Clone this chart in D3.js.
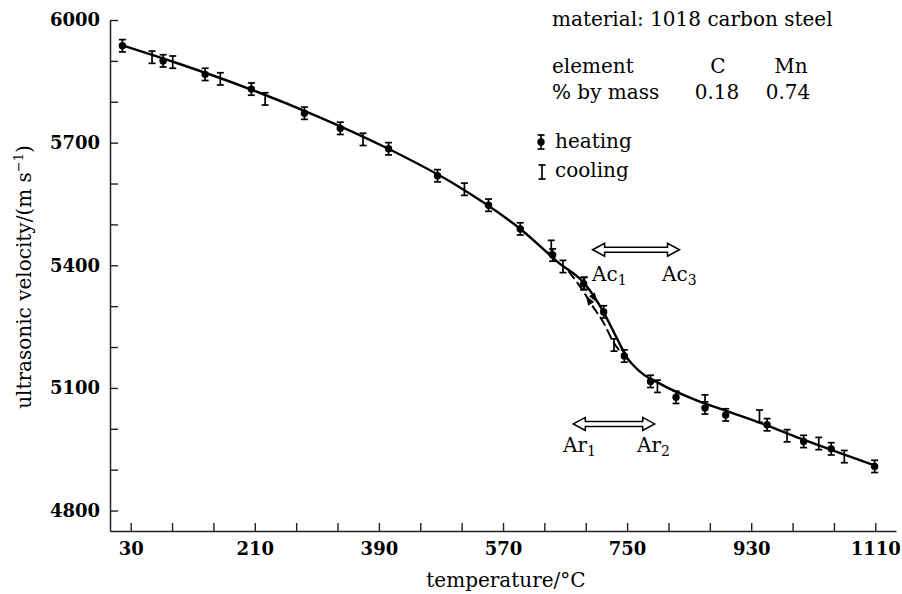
<!DOCTYPE html>
<html>
<head>
<meta charset="utf-8">
<script src="https://cdn.jsdelivr.net/npm/d3@7"></script>
<style>
  body { margin: 0; background: #fff; }
  text { font-family: "DejaVu Serif", serif; fill: #000; }
</style>
</head>
<body>
<div class="canvas"></div>
<script>
// heating runs (dot with error bar)
const heatTemp = [18, 77, 138, 205, 282, 334, 404, 475, 549, 595, 642, 687, 716, 746, 784, 821, 863, 893, 953, 1006, 1046, 1109];
const heatVel = [5937, 5900, 5867, 5831, 5772, 5735, 5685, 5619, 5547, 5489, 5425, 5355, 5286, 5178, 5116, 5077, 5051, 5034, 5010, 4969, 4951, 4908];

// cooling runs (error bar only)
const coolTemp = [61, 91, 160, 225, 367, 514, 640, 657, 688, 731, 794, 863, 942, 982, 1028, 1065];
const coolVel = [5909, 5897, 5856, 5807, 5708, 5586, 5446, 5397, 5356, 5205, 5104, 5068, 5031, 4983, 4964, 4932];
const errBar = 15;

// smooth curve through both runs (solid)
const fitTemp = [18, 100, 200, 300, 400, 500, 600, 650, 690, 715, 735, 750, 770, 800, 850, 900, 950, 1000, 1050, 1110];
const fitVel = [5938, 5893, 5833, 5765, 5688, 5598, 5482, 5407, 5352, 5288, 5222, 5174, 5138, 5108, 5070, 5040, 5010, 4977, 4946, 4910];

// cooling branch through the transformation range (dashed)
const coolFitTemp = [665, 685, 700, 715, 731, 745, 752];
const coolFitVel = [5386, 5340, 5300, 5262, 5210, 5180, 5168];

// ticks
const xTicks = d3.range(30, 1111, 60);
const xLabels = [30, 210, 390, 570, 750, 930, 1110];
const yTicks = d3.range(4800, 6001, 100);
const yLabels = [4800, 5100, 5400, 5700, 6000];

// transformation ranges
const acRange = [700, 826], acLevel = 5438;
const arRange = [672, 790], arLevel = 5012;

const svg = d3.select('.canvas')
    .append('svg')
    .attr('width', 902)
    .attr('height', 594);

const x = d3.scaleLinear().domain([0, 1140]).range([110, 896]);
const y = d3.scaleLinear().domain([4750, 6000]).range([531, 20]);

// axes, ticks pointing inwards
const xAxis = d3.axisBottom(x)
    .tickValues(xTicks)
    .tickSizeInner(-8)
    .tickSizeOuter(0)
    .tickPadding(11)
    .tickFormat(d => xLabels.includes(d) ? d : '');

const yAxis = d3.axisLeft(y)
    .tickValues(yTicks)
    .tickSizeInner(-8)
    .tickSizeOuter(0)
    .tickPadding(10)
    .tickFormat(d => yLabels.includes(d) ? d : '');

const xAxisGroup = svg.append('g')
    .attr('transform', `translate(0, ${y.range()[0]})`)
    .call(xAxis);
const yAxisGroup = svg.append('g')
    .attr('transform', `translate(${x.range()[0]}, 0)`)
    .call(yAxis);

[xAxisGroup, yAxisGroup].forEach(g => {
  g.select('.domain').attr('stroke', '#222').attr('stroke-width', 1.5);
  g.selectAll('.tick line').attr('stroke', '#222').attr('stroke-width', 1.4);
  g.selectAll('.tick text')
      .attr('font-family', '"DejaVu Serif", serif')
      .attr('font-weight', 'bold')
      .attr('font-size', 18)
      .attr('fill', '#000');
});

// axis titles
svg.append('text')
    .attr('x', 506).attr('y', 587)
    .attr('text-anchor', 'middle')
    .attr('font-size', 20)
    .text('temperature/°C');

const yTitle = svg.append('text')
    .attr('transform', 'translate(31, 277) rotate(-90)')
    .attr('text-anchor', 'middle')
    .attr('font-size', 20);
yTitle.append('tspan').text('ultrasonic velocity/(m s');
yTitle.append('tspan').attr('font-size', 13).attr('dy', -8).text('−1');
yTitle.append('tspan').attr('dy', 8).text(')');

// curves
const line = d3.line()
    .x(d => x(d[0]))
    .y(d => y(d[1]))
    .curve(d3.curveMonotoneX);

svg.append('path')
    .datum(fitTemp.map((t, i) => [t, fitVel[i]]))
    .attr('d', line)
    .attr('fill', 'none')
    .attr('stroke', '#000')
    .attr('stroke-width', 2.4);

svg.append('path')
    .datum(coolFitTemp.map((t, i) => [t, coolFitVel[i]]))
    .attr('d', line)
    .attr('fill', 'none')
    .attr('stroke', '#000')
    .attr('stroke-width', 2)
    .attr('stroke-dasharray', '10,4');

// direction arrows on the two branches
function interp(ts, vs, t) {
  const i = Math.min(d3.bisectRight(ts, t) - 1, ts.length - 2);
  const f = (t - ts[i]) / (ts[i + 1] - ts[i]);
  return vs[i] + f * (vs[i + 1] - vs[i]);
}
function arrowHead(ts, vs, t, dir) {
  const px = x(t), py = y(interp(ts, vs, t));
  const qx = x(t + dir * 3), qy = y(interp(ts, vs, t + dir * 3));
  const ang = Math.atan2(qy - py, qx - px) * 180 / Math.PI;
  svg.append('path')
      .attr('d', 'M5,0 L-5,-3.5 L-5,3.5 Z')
      .attr('fill', '#000')
      .attr('transform', `translate(${px}, ${py}) rotate(${ang})`);
}
arrowHead(fitTemp, fitVel, 703, 1);
arrowHead(coolFitTemp, coolFitVel, 694, -1);

// error bars
function errorBars(ts, vs) {
  const g = svg.append('g').attr('stroke', '#000').attr('stroke-width', 1.7);
  ts.forEach((t, i) => {
    const cx = x(t), top = y(vs[i] + errBar), bot = y(vs[i] - errBar);
    g.append('line').attr('x1', cx).attr('x2', cx).attr('y1', top).attr('y2', bot);
    g.append('line').attr('x1', cx - 3.5).attr('x2', cx + 3.5).attr('y1', top).attr('y2', top);
    g.append('line').attr('x1', cx - 3.5).attr('x2', cx + 3.5).attr('y1', bot).attr('y2', bot);
  });
}
errorBars(coolTemp, coolVel);
errorBars(heatTemp, heatVel);

svg.append('g')
    .selectAll('circle')
    .data(heatTemp)
    .enter()
    .append('circle')
    .attr('cx', d => x(d))
    .attr('cy', (d, i) => y(heatVel[i]))
    .attr('r', 3.7)
    .attr('fill', '#000');

// material block
svg.append('text').attr('x', 552).attr('y', 26).attr('font-size', 20)
    .text('material: 1018 carbon steel');
svg.append('text').attr('x', 552).attr('y', 73).attr('font-size', 20).text('element');
svg.append('text').attr('x', 552).attr('y', 99).attr('font-size', 20).text('% by mass');
svg.append('text').attr('x', 718).attr('y', 73).attr('font-size', 20).attr('text-anchor', 'middle').text('C');
svg.append('text').attr('x', 791).attr('y', 73).attr('font-size', 20).attr('text-anchor', 'middle').text('Mn');
svg.append('text').attr('x', 717).attr('y', 99).attr('font-size', 20).attr('text-anchor', 'middle').text('0.18');
svg.append('text').attr('x', 788).attr('y', 99).attr('font-size', 20).attr('text-anchor', 'middle').text('0.74');

// legend
const leg = svg.append('g').attr('stroke', '#000').attr('stroke-width', 1.7);
leg.append('line').attr('x1', 541).attr('x2', 541).attr('y1', 135).attr('y2', 149);
leg.append('line').attr('x1', 537.5).attr('x2', 544.5).attr('y1', 135).attr('y2', 135);
leg.append('line').attr('x1', 537.5).attr('x2', 544.5).attr('y1', 149).attr('y2', 149);
leg.append('circle').attr('cx', 541).attr('cy', 142).attr('r', 3.7).attr('fill', '#000').attr('stroke', 'none');
leg.append('line').attr('x1', 542).attr('x2', 542).attr('y1', 165).attr('y2', 179);
leg.append('line').attr('x1', 538.5).attr('x2', 545.5).attr('y1', 165).attr('y2', 165);
leg.append('line').attr('x1', 538.5).attr('x2', 545.5).attr('y1', 179).attr('y2', 179);
svg.append('text').attr('x', 555).attr('y', 148).attr('font-size', 20).text('heating');
svg.append('text').attr('x', 555).attr('y', 177).attr('font-size', 20).text('cooling');

// hollow double-headed arrows
function doubleArrow(range, level) {
  const x0 = x(range[0]), x1 = x(range[1]), yc = y(level);
  const L = 12, H = 13, s = 5;
  const pts = [
    [x0, yc], [x0 + L, yc - H / 2], [x0 + L, yc - s / 2], [x1 - L, yc - s / 2],
    [x1 - L, yc - H / 2], [x1, yc], [x1 - L, yc + H / 2], [x1 - L, yc + s / 2],
    [x0 + L, yc + s / 2], [x0 + L, yc + H / 2]
  ];
  svg.append('path')
      .attr('d', 'M' + pts.map(p => p.join(',')).join('L') + 'Z')
      .attr('fill', '#fff')
      .attr('stroke', '#000')
      .attr('stroke-width', 1.5);
}
doubleArrow(acRange, acLevel);
doubleArrow(arRange, arLevel);

function subLabel(px, py, main, sub) {
  const t = svg.append('text').attr('x', px).attr('y', py).attr('font-size', 20);
  t.append('tspan').text(main);
  t.append('tspan').attr('font-size', 14).attr('dy', 4).text(sub);
}
subLabel(592, 281, 'Ac', '1');
subLabel(662, 281, 'Ac', '3');
subLabel(563, 452, 'Ar', '1');
subLabel(637, 452, 'Ar', '2');
</script>
</body>
</html>
